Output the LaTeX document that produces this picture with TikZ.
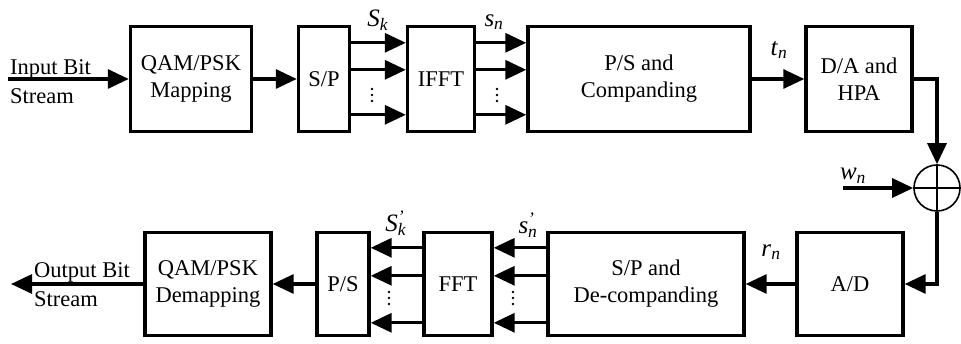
\documentclass[tikz,border=0pt]{standalone}
\usepackage{fontspec}
\setmainfont{Liberation Serif}
\usetikzlibrary{arrows.meta}

\newcommand{\sgl}[2]{\textit{#1}\textsubscript{\textit{#2}}}
\newcommand{\sglp}[2]{\textit{#1}\makebox[0pt][l]{\textsuperscript{\textit{'}}}\textsubscript{\textit{#2}}}

\begin{document}
\begin{tikzpicture}[x=1pt, y=-1pt, >={Triangle[length=21pt,width=19pt]},
    blk/.style={draw, line width=3.4pt, inner sep=2pt, align=center,
                font=\fontsize{22.5}{27}\selectfont},
    sigl/.style={->, line width=3.2pt},
    lbl/.style={font=\fontsize{25}{26}\selectfont, inner sep=0pt},
    txt/.style={font=\fontsize{22.5}{29}\selectfont, align=left, inner sep=0pt}]

    \useasboundingbox (0,0) rectangle (961,344);

    % =========================================================================
    % TRANSMITTER (top row)
    % =========================================================================
    \node[blk, minimum width=121pt, minimum height=105pt] (map)   at (191,79)   {QAM/PSK\\Mapping};
    \node[blk, minimum width=51pt,  minimum height=105pt] (sp)    at (324,79)   {S/P};
    \node[blk, minimum width=67pt,  minimum height=105pt] (ifft)  at (441,79)   {IFFT};
    \node[blk, minimum width=222pt, minimum height=105pt] (psc)   at (639,79)   {P/S and\\Companding};
    \node[blk, minimum width=106pt, minimum height=105pt] (dahpa) at (859,79)   {D/A and\\HPA};

    % --- input ---
    \coordinate (in) at (8,79);
    \node[txt, anchor=west] (inlbl) at (10,82) {Input Bit\\Stream};
    \draw[sigl] (in) -- (map.west);
    \draw[sigl] (map.east) -- (sp.west);

    % --- parallel branches ---
    \foreach \dy in {18,45,90} {
        \draw[sigl] ([yshift=-\dy pt]sp.north east) -- ([yshift=-\dy pt]ifft.north west);
        \draw[sigl] ([yshift=-\dy pt]ifft.north east) -- ([yshift=-\dy pt]psc.north west);
    }
    \foreach \x in {372,497}
        \foreach \k in {0,1,2}
            \fill (\x,89+6*\k) circle (1.3);
    \node[lbl] (Sk) at (378,20) {\sgl{S}{k}};
    \node[lbl] (sn) at (494,22) {\sgl{s}{n}};

    \draw[sigl] (psc.east) -- (dahpa.west);
    \node[lbl] (tn) at (779,50) {\sgl{t}{n}};

    % =========================================================================
    % CHANNEL (adder)
    % =========================================================================
    \node[draw, circle, line width=1.6pt, minimum size=46pt, inner sep=0pt] (sum) at (937,188) {};
    \draw[line width=1.6pt] (sum.north) -- (sum.south) (sum.west) -- (sum.east);
    \draw[sigl] (dahpa.east) -| (sum.north);
    \coordinate (noise) at (843,188);
    \draw[sigl] (noise) -- (sum.west);
    \node[lbl] (wn) at (853,176) {\sgl{w}{n}};

    % =========================================================================
    % RECEIVER (bottom row)
    % =========================================================================
    \node[blk, minimum width=126pt, minimum height=103pt] (demap) at (208,284) {QAM/PSK\\Demapping};
    \node[blk, minimum width=52pt,  minimum height=103pt] (ps)    at (343,284) {P/S};
    \node[blk, minimum width=68pt,  minimum height=103pt] (fft)   at (458,284) {FFT};
    \node[blk, minimum width=196pt, minimum height=103pt] (spd)   at (646,284) {S/P and\\De-companding};
    \node[blk, minimum width=106pt, minimum height=103pt] (ad)    at (850,284) {A/D};

    \draw[sigl] (sum.south) |- (ad.east);
    \draw[sigl] (ad.west) -- (spd.east);
    \node[lbl] (rn) at (771,252) {\sgl{r}{n}};

    % --- parallel branches ---
    \foreach \dy in {17,45,92} {
        \draw[sigl] ([yshift=-\dy pt]spd.north west) -- ([yshift=-\dy pt]fft.north east);
        \draw[sigl] ([yshift=-\dy pt]fft.north west) -- ([yshift=-\dy pt]ps.north east);
    }
    \foreach \x in {389,513}
        \foreach \k in {0,1,2}
            \fill (\x,292+6*\k) circle (1.3);
    \node[lbl] (Skp) at (396,223) {\sglp{S}{k}};
    \node[lbl] (snp) at (528,225) {\sglp{s}{n}};

    % --- output ---
    \draw[sigl] (ps.west) -- (demap.east);
    \coordinate (out) at (11,284);
    \draw[sigl] (demap.west) -- (out);
    \node[txt, anchor=west] (outlbl) at (34,285) {Output Bit\\Stream};

\end{tikzpicture}
\end{document}
